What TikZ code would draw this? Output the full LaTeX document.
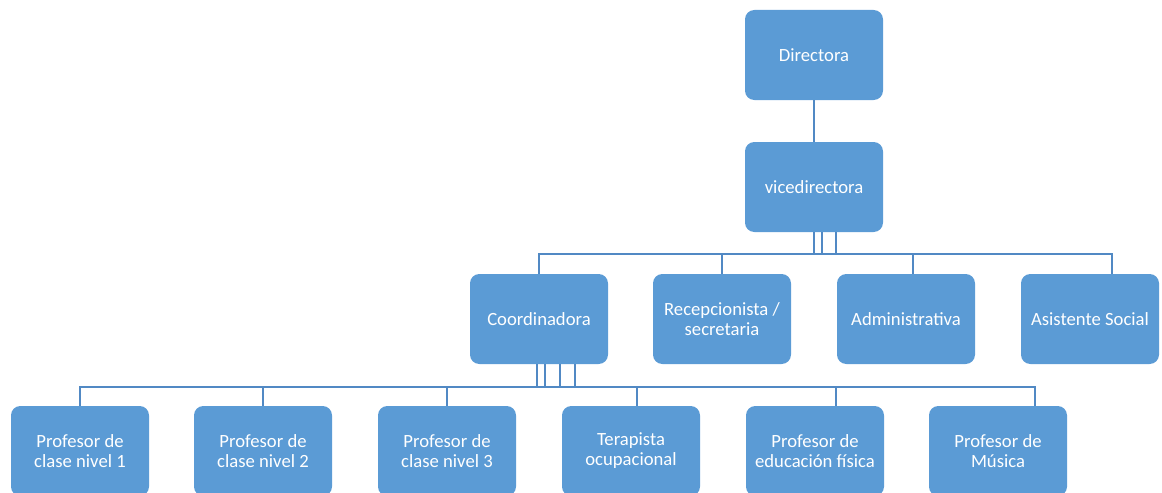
\documentclass[tikz,border=0pt]{standalone}
\usepackage{fontspec}
\setmainfont{Carlito}
\definecolor{boxblue}{HTML}{5B9BD5}
\definecolor{lineblue}{HTML}{5189C4}
\begin{document}
\begin{tikzpicture}[x=0.75pt,y=-0.75pt,
  box/.style={fill=boxblue,rounded corners=7pt,minimum width=103.5pt,minimum height=67.5pt,
    text=white,align=center,font=\fontsize{14pt}{15pt}\selectfont,inner sep=0pt},
  conn/.style={draw=lineblue,line width=1.9pt}]
\useasboundingbox (0,0) rectangle (1162,492);
\clip (0,0) rectangle (1162,492);
% nodes
\node[box] (dir) at (814,55) {Directora};
\node[box] (vice) at (814,187) {vicedirectora};
\node[box] (coord) at (539,319) {Coordinadora};
\node[box] (recep) at (722,319) {Recepcionista /\\secretaria};
\node[box] (admin) at (906,319) {Administrativa};
\node[box] (asis) at (1090,319) {Asistente Social};
\node[box] (p1) at (80,451) {Profesor de\\clase nivel 1};
\node[box] (p2) at (263,451) {Profesor de\\clase nivel 2};
\node[box] (p3) at (447,451) {Profesor de\\clase nivel 3};
\node[box] (p4) at (631,451) {Terapista\\ocupacional};
\node[box] (p5) at (815,451) {Profesor de\\educación física};
\node[box] (p6) at (998,451) {Profesor de\\Música};
% bus coordinates
\coordinate (busA) at (0,254);
\coordinate (busB) at (0,387);
\coordinate (a3) at ([xshift=5.25pt]admin.north);
\coordinate (a4) at ([xshift=16.5pt]asis.north);
\coordinate (b4) at ([xshift=4.5pt]p4.north);
\coordinate (b5) at ([xshift=15.75pt]p5.north);
\coordinate (b6) at ([xshift=27.75pt]p6.north);
\coordinate (v1) at (vice.south);
\coordinate (v2) at ([xshift=6pt]vice.south);
\coordinate (v3) at ([xshift=16.5pt]vice.south);
\coordinate (c1) at ([xshift=-1.5pt]coord.south);
\coordinate (c2) at ([xshift=4.5pt]coord.south);
\coordinate (c3) at ([xshift=15.75pt]coord.south);
\coordinate (c4) at ([xshift=27pt]coord.south);
% connectors
\draw[conn] (dir) -- (vice);
\foreach \v in {v1,v2,v3} \draw[conn] (\v) -- (\v |- busA);
\draw[conn] (coord.north) |- (a4 |- busA) -- (a4);
\draw[conn] (recep.north) -- (recep.north |- busA);
\draw[conn] (a3) -- (a3 |- busA);
\foreach \c in {c1,c2,c3,c4} \draw[conn] (\c) -- (\c |- busB);
\draw[conn] (p1.north) |- (b6 |- busB) -- (b6);
\draw[conn] (p2.north) -- (p2.north |- busB);
\draw[conn] (p3.north) -- (p3.north |- busB);
\draw[conn] (b4) -- (b4 |- busB);
\draw[conn] (b5) -- (b5 |- busB);
\end{tikzpicture}
\end{document}
